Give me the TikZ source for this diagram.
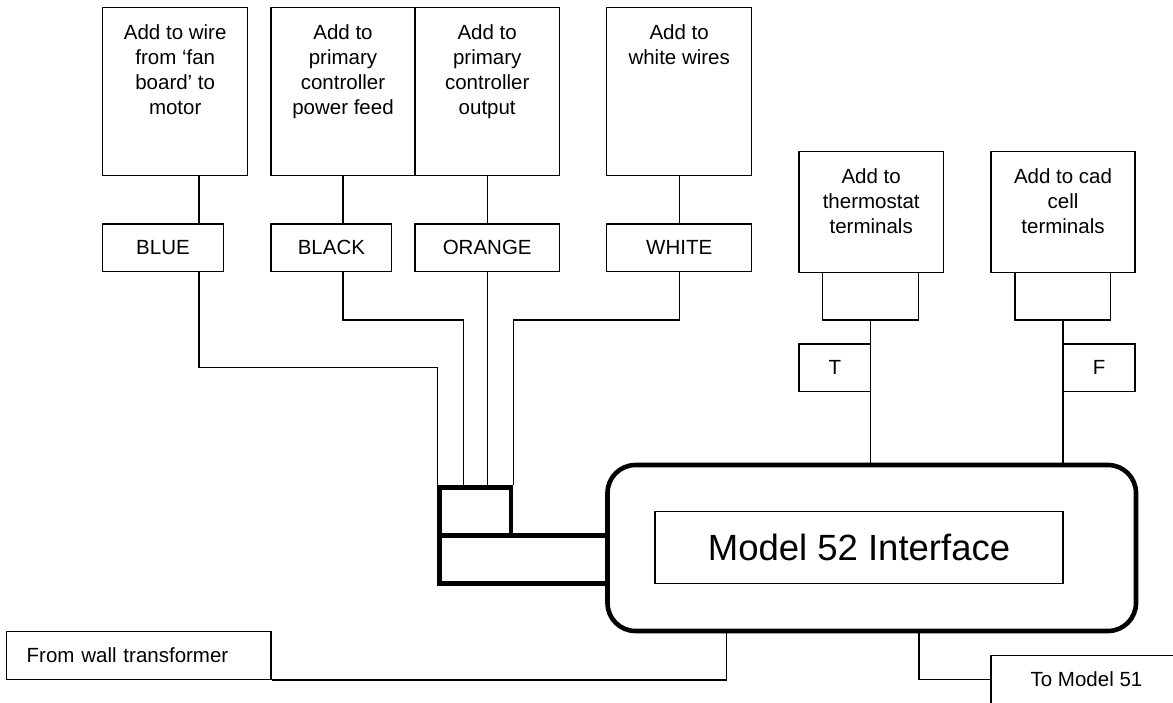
\documentclass[tikz,border=0pt]{standalone}
\usepackage{fontspec}
\setmainfont{Liberation Sans}
\usetikzlibrary{positioning}

\tikzset{
  wire/.style={line width=0.6pt},
  addbox/.style={draw, line width=0.6pt, inner sep=0pt, minimum height=84.2pt},
  tagbox/.style={draw, line width=0.6pt, inner sep=0pt, minimum height=23.85pt},
  termbox/.style={draw, line width=0.6pt, inner sep=0pt, minimum height=60.3pt},
  note/.style={align=center, inner sep=0pt},
  heavybox/.style={draw, line width=2.3pt, inner sep=0pt},
}

\begin{document}
\begin{tikzpicture}[x=0.5pt, y=-0.5pt, font=\fontsize{10.25}{12.5}\selectfont]
    \fill[white] (0,0) rectangle (1173,702);
    \clip (0,0) rectangle (1173,702);

    % Boxes along the top
    \node[addbox, minimum width=72.5pt] (fan) at (175.2,91.5) {};
    \node[note, below=8.75pt of fan.north] (fantext) {Add to wire\\from ‘fan\\board’ to\\motor};
    \node[addbox, minimum width=72pt] (feed) at (343,91.5) {};
    \node[note, below=8.75pt of feed.north] (feedtext) {Add to\\primary\\controller\\power feed};
    \node[addbox, minimum width=72.15pt] (output) at (487.2,91.5) {};
    \node[note, below=8.75pt of output.north] (outputtext) {Add to\\primary\\controller\\output};
    \node[addbox, minimum width=72.5pt] (whites) at (679.2,91.5) {};
    \node[note, below=8.75pt of whites.north] (whitestext) {Add to\\white wires};

    % Wire colours
    \node[tagbox, minimum width=60.3pt] (blue) at (163,247.85) {BLUE};
    \node[tagbox, minimum width=60.35pt] (black) at (331.4,247.85) {BLACK};
    \node[tagbox, minimum width=72.15pt] (orange) at (487.2,247.85) {ORANGE};
    \node[tagbox, minimum width=72.5pt] (white) at (679.2,247.85) {WHITE};

    % Thermostat and cad cell
    \node[termbox, minimum width=72.15pt] (tstat) at (871.2,212) {};
    \node[note, below=8.5pt of tstat.north] (tstattext) {Add to\\thermostat\\terminals};
    \node[tagbox, minimum width=48pt] (tplug) at (870.7,296.2) {};
    \node[tagbox, minimum width=35.85pt] (tterm) at (834.9,367.9) {T};
    \node[termbox, minimum width=72pt] (cad) at (1063,212) {};
    \node[note, below=8.5pt of cad.north] (cadtext) {Add to cad\\cell\\terminals};
    \node[tagbox, minimum width=47.85pt] (fplug) at (1062.9,296.2) {};
    \node[tagbox, minimum width=35.85pt] (fterm) at (1099.2,367.9) {F};

    % Interface
    \node[draw, line width=2.3pt, rounded corners=14pt, minimum width=264.25pt, minimum height=83pt] (model) at (871.75,548) {};
    \node[draw, line width=0.6pt, minimum width=204pt, minimum height=35.8pt, font=\fontsize{18.25}{22}\selectfont] (core) at (859,547.5) {Model 52 Interface};

    % Plug and socket
    \node[heavybox, minimum width=35.75pt, minimum height=24pt] (plug) at (475.25,511.7) {};
    \node[heavybox, minimum width=84pt, minimum height=23.8pt] (socket) at (523.5,559.5) {};

    % Power in and out
    \node[tagbox, minimum width=132.15pt, text width=112.15pt, inner xsep=10pt, align=left] (wall) at (138.85,655.5) {From wall transformer};
    \node[tagbox, minimum width=95.5pt] (tomodel) at (1086.5,679.5) {To Model 51};

    \coordinate (bluex) at (199,0);
    \coordinate (blackx) at (463.3,0);
    \coordinate (upper) at (0,320);
    \coordinate (lower) at (0,367.7);

    \draw[wire] (bluex |- fan.south) -- (bluex |- blue.north);
    \draw[wire] (feed.south) -- (feed.south |- black.north);
    \draw[wire] (output.south) -- (orange.north);
    \draw[wire] (whites.south) -- (white.north);

    \draw[wire] (bluex |- blue.south) -- (bluex |- lower) -| (plug.north west);
    \draw[wire] (feed.south |- black.south) -- (feed.south |- upper) -| (blackx |- plug.north);
    \draw[wire] (orange.south) -- (orange.south |- plug.north);
    \draw[wire] (white.south) -- (white.south |- upper) -| (plug.north east);

    \draw[wire] (tplug.south) -- (tplug.south |- model.north);
    \draw[wire] (fplug.south) -- (fplug.south |- model.north);

    \draw[wire] (wall.south east) -| (726.8,0 |- model.south);
    \draw[wire] (919,0 |- model.south) |- (tomodel.west);
\end{tikzpicture}
\end{document}
